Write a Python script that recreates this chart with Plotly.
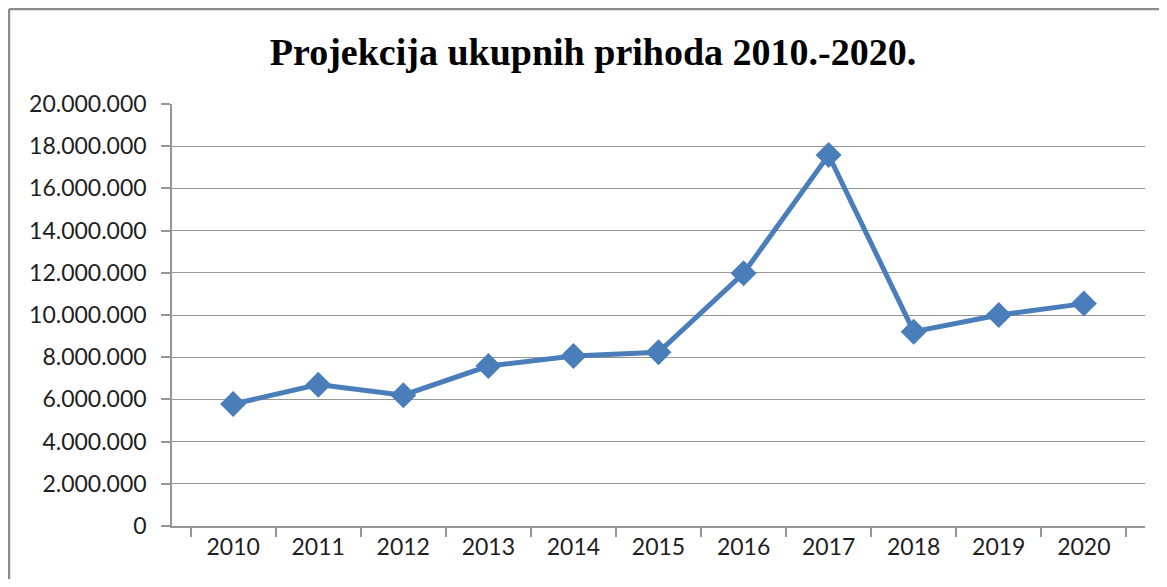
import plotly.graph_objects as go

years = ["2010", "2011", "2012", "2013", "2014", "2015", "2016", "2017", "2018", "2019", "2020"]
prihodi = [5780000, 6700000, 6200000, 7580000, 8060000, 8230000, 11980000, 17580000, 9210000, 10000000, 10540000]
y_ticks = [0, 2000000, 4000000, 6000000, 8000000, 10000000, 12000000, 14000000, 16000000, 18000000, 20000000]

blue = "#4A7EBB"
gray = "#969696"
border = "#8C8C8C"

W, H = 1151, 571
L, R, T, B = 164, 14, 96, 53
pw, ph = W - L - R, H - T - B

fig = go.Figure()
fig.add_trace(go.Scatter(
    x=years, y=prihodi, mode="lines+markers",
    line=dict(color=blue, width=5),
    marker=dict(symbol="diamond", size=20, color=blue),
    showlegend=False, hoverinfo="x+y",
))

fig.update_layout(
    width=W, height=H,
    margin=dict(l=L, r=R, t=T, b=B),
    paper_bgcolor="white", plot_bgcolor="white",
    separators=",.",
    title=dict(text="<b>Projekcija ukupnih prihoda 2010.-2020.</b>",
               font=dict(family="Liberation Serif", size=38, color="black"),
               x=585/W, xanchor="center", y=1-44/H, yanchor="middle"),
    font=dict(family="Lato", size=23, color="#1E1E1E"),
)
fig.update_xaxes(
    type="category", tickson="boundaries", showgrid=False,
    showline=True, linecolor=gray, linewidth=1.5,
    ticks="outside", ticklen=9, tickcolor=gray, tickwidth=1.5,
    tickfont=dict(family="Lato", size=23, color="#1E1E1E"),
)
fig.update_yaxes(
    range=[0, 20000000], tickvals=y_ticks, tickformat=",d",
    showgrid=True, gridcolor=gray, gridwidth=1.3,
    showline=True, linecolor=gray, linewidth=1.5,
    ticks="outside", ticklen=9, tickcolor=gray, tickwidth=1.5,
    ticklabelstandoff=10,
    zeroline=False,
    tickfont=dict(family="Lato", size=23, color="#1E1E1E"),
)
bx = (1 - L) / pw
by = (ph + T - 1) / ph
fig.add_shape(type="line", xref="paper", yref="paper",
              x0=bx, x1=bx, y0=-0.5, y1=by,
              line=dict(color=border, width=2.5), layer="below")
fig.add_shape(type="line", xref="paper", yref="paper",
              x0=bx, x1=1.5, y0=by, y1=by,
              line=dict(color=border, width=2.5), layer="below")

fig.write_html("out.html")
